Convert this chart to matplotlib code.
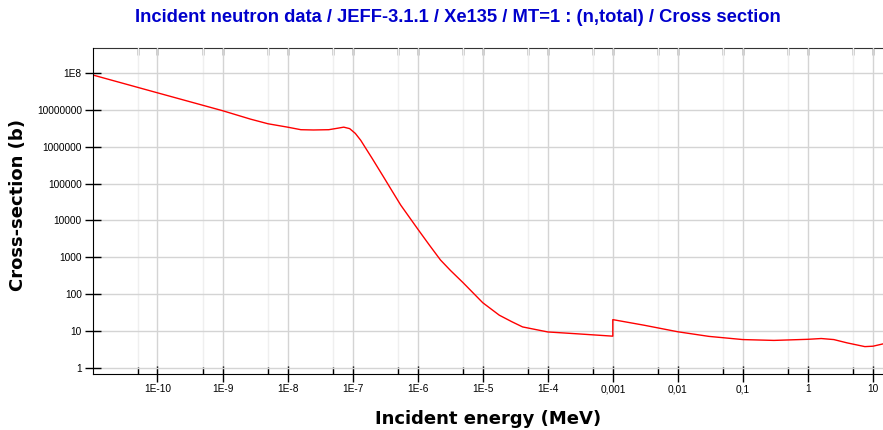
import matplotlib
matplotlib.use("Agg")
import matplotlib.pyplot as plt
from matplotlib.ticker import FixedLocator, FixedFormatter, NullFormatter

# Data
energy = [1.02e-11, 1e-10, 1e-9, 2.7e-9, 5e-9, 1e-8, 1.6e-8, 2.5e-8, 4.3e-8, 6e-8,
          7.3e-8, 9e-8, 1.1e-7, 1.33e-7, 2e-7, 3e-7, 4e-7, 5.5e-7, 1e-6, 1.5e-6,
          2.24e-6, 3.2e-6, 5e-6, 7e-6, 1e-5, 1.8e-5, 2.8e-5, 4.1e-5, 1e-4, 3e-4,
          1e-3, 1e-3, 3e-3, 1e-2, 3e-2, 0.1, 0.3, 1.0, 1.6, 2.5,
          4.0, 7.5, 10.0, 15.0]
xs = [8.8e7, 2.9e7, 9.5e6, 5.6e6, 4.2e6, 3.4e6, 2.9e6, 2.85e6, 2.9e6, 3.2e6,
      3.4e6, 3.1e6, 2.3e6, 1.5e6, 4.8e5, 1.5e5, 6.5e4, 2.6e4, 5.9e3, 2.2e3,
      850, 440, 205, 112, 59, 27, 18, 13, 9.5, 8.4,
      7.3, 20.5, 14.5, 9.6, 7.2, 5.9, 5.6, 6.0, 6.3, 5.9,
      4.8, 3.8, 3.9, 4.6]

xticks = [1e-10, 1e-9, 1e-8, 1e-7, 1e-6, 1e-5, 1e-4, 1e-3, 1e-2, 1e-1, 1, 10]
xticklabels = ["1E-10", "1E-9", "1E-8", "1E-7", "1E-6", "1E-5", "1E-4",
               "0,001", "0,01", "0,1", "1", "10"]
xminor = [5e-11, 5e-10, 5e-9, 5e-8, 5e-7, 5e-6, 5e-5, 5e-4, 5e-3, 5e-2, 0.5, 5]
yticks = [1, 10, 100, 1000, 1e4, 1e5, 1e6, 1e7, 1e8]
yticklabels = ["1", "10", "100", "1000", "10000", "100000", "1000000",
               "10000000", "1E8"]

plt.rcParams['font.family'] = ['Liberation Sans', 'DejaVu Sans']

fig = plt.figure(figsize=(8.83, 4.30), dpi=100)
ax = fig.add_axes([93/883, 1-374/430, 1-93/883, (374-48)/430])

ax.plot(energy, xs, color='#ff0000', lw=1.0)
ax.set_xscale('log')
ax.set_yscale('log')
ax.set_xlim(10**(-10 - 64.5/65.05), 10**(1 + 10/65.05))
ax.set_ylim(10**(-6/36.875), 10**(8 + 25/36.875))

ax.xaxis.set_major_locator(FixedLocator(xticks))
ax.xaxis.set_major_formatter(FixedFormatter(xticklabels))
ax.xaxis.set_minor_locator(FixedLocator(xminor))
ax.xaxis.set_minor_formatter(NullFormatter())
ax.yaxis.set_major_locator(FixedLocator(yticks))
ax.yaxis.set_major_formatter(FixedFormatter(yticklabels))
ax.yaxis.set_minor_locator(FixedLocator([]))

ax.grid(which='major', color='#d4d4d4', lw=1.0)
ax.grid(which='minor', axis='x', color='#efefef', lw=1.0)
ax.set_axisbelow(True)

ax.tick_params(axis='x', which='major', direction='inout', length=11, width=1,
               top=False, labelsize=7.3, pad=2)
ax.tick_params(axis='x', which='minor', direction='in', length=5, width=1, top=False)
ax.tick_params(axis='y', which='major', direction='inout', length=12, width=1,
               labelsize=7.3, pad=2)
ax.spines['right'].set_visible(False)
ax.spines['top'].set_visible(False)

secax = ax.secondary_xaxis('top')
secax.xaxis.set_major_locator(FixedLocator(xticks))
secax.xaxis.set_minor_locator(FixedLocator(xminor))
secax.xaxis.set_major_formatter(NullFormatter())
secax.xaxis.set_minor_formatter(NullFormatter())
secax.tick_params(which='both', direction='in', length=5, width=1)
secax.spines['top'].set_color('#333333')

fig.text(488/883, 1-419/430, 'Incident energy (MeV)', ha='center', va='center',
         fontsize=13, fontweight='bold', family=['DejaVu Sans'])
fig.text(18/883, 1-205/430, 'Cross-section (b)', ha='center', va='center',
         rotation=90, fontsize=13, fontweight='bold', family=['DejaVu Sans'])

fig.text(458/883, 1-18/430, 'Incident neutron data / JEFF-3.1.1 / Xe135 / MT=1 : (n,total) / Cross section',
         ha='center', va='center', color='#0000cc', fontsize=13.2, fontweight='bold')

fig.savefig('out.png', dpi=100)
